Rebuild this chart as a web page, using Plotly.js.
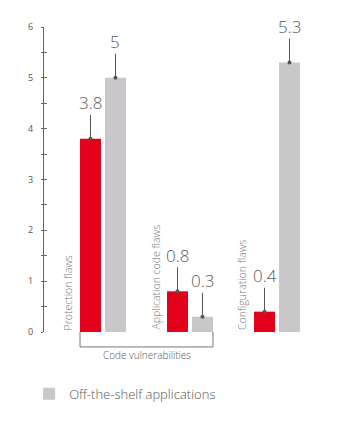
<!DOCTYPE html>
<html>
<head>
<meta charset="utf-8">
<script src="https://cdn.plot.ly/plotly-3.0.1.min.js"></script>
<style>html,body{margin:0;padding:0;background:#fff;}#chart{width:351px;height:426px;}</style>
</head>
<body>
<div id="chart"></div>
<script>
var categories = ["Protection flaws", "Application code flaws", "Configuration flaws"];
var customValues = [3.8, 0.8, 0.4];
var shelfValues = [5, 0.3, 5.3];
var customLabels = ["3.8", "0.8", "0.4"];
var shelfLabels = ["5", "0.3", "5.3"];
var legendName = "Off-the-shelf applications";
var bracketLabel = "Code vulnerabilities";
var yTicks = [0, 1, 2, 3, 4, 5, 6];

var RED = "#e2001a", GREY = "#c9c7c9", FONT = "Open Sans, sans-serif";
var half = 0.264; // half group width in category units

var traces = [
  {type: "bar", x: categories, y: customValues, marker: {color: RED}, showlegend: false, hoverinfo: "skip"},
  {type: "bar", x: categories, y: shelfValues, name: legendName, marker: {color: GREY}, hoverinfo: "skip"}
];

var annotations = [];
categories.forEach(function (c, i) {
  [[customValues, customLabels, -12.5], [shelfValues, shelfLabels, 12.5]].forEach(function (s) {
    annotations.push({
      x: c, y: s[0][i], xref: "x", yref: "y", xshift: s[2],
      text: s[1][i], showarrow: true, ax: 0, ay: -36, arrowhead: 6, arrowsize: 1,
      arrowwidth: 1, arrowcolor: "#555", borderpad: 0,
      font: {family: FONT, size: 17, color: "#5a5a5a", weight: 300}
    });
  });
  annotations.push({
    x: c, y: 0, xref: "x", yref: "y", xshift: -35, yanchor: "bottom", xanchor: "center",
    text: c, textangle: -90, showarrow: false,
    font: {family: FONT, size: 10.5, color: "#777", weight: 300}
  });
});
annotations.push({
  x: 0.5, y: -0.075, xref: "x", yref: "paper", yanchor: "middle", text: bracketLabel, showarrow: false,
  font: {family: FONT, size: 10, color: "#555", weight: 300}
});

var layout = {
  width: 351, height: 426,
  margin: {l: 44, r: 21, t: 27, b: 94},
  paper_bgcolor: "#fff", plot_bgcolor: "#fff",
  barmode: "group", bargap: 0.425, bargroupgap: 0.16,
  font: {family: FONT, color: "#555"},
  xaxis: {type: "category", range: [-0.678, 2.609], showticklabels: false, showgrid: false, zeroline: false, showline: false, ticks: "", fixedrange: true},
  yaxis: {range: [0, 6], tickvals: yTicks, showgrid: false, zeroline: false, showline: true, linecolor: "#666", linewidth: 1,
    ticks: "outside", ticklen: 2, tickcolor: "#666", ticklabelstandoff: 6,
    tickfont: {family: FONT, size: 9, color: "#555"},
    minor: {dtick: 0.5, ticks: "outside", ticklen: 2, tickcolor: "#666"}, fixedrange: true},
  yaxis2: {overlaying: "y", side: "left", range: [0, 6], tickvals: yTicks, showticklabels: false, showgrid: false, zeroline: false, showline: false,
    ticks: "inside", ticklen: 3, tickcolor: "#666",
    minor: {dtick: 0.5, ticks: "inside", ticklen: 3, tickcolor: "#666"}, fixedrange: true},
  shapes: [{type: "path", xref: "x", yref: "paper",
    path: "M " + (-half) + ",0 L " + (-half) + ",-0.049 L " + (1 + half) + ",-0.049 L " + (1 + half) + ",0",
    line: {color: "#777", width: 1}}],
  annotations: annotations,
  showlegend: true,
  legend: {orientation: "h", x: -0.052, xanchor: "left", y: -0.203, yanchor: "middle", font: {family: FONT, size: 13, color: "#555", weight: 300}, bgcolor: "rgba(0,0,0,0)"}
};

traces.push({type: "scatter", x: [categories[0]], y: [0], yaxis: "y2", mode: "markers", marker: {opacity: 0}, showlegend: false, hoverinfo: "skip"});

Plotly.newPlot("chart", traces, layout, {displayModeBar: false, staticPlot: true});
</script>
</body>
</html>
